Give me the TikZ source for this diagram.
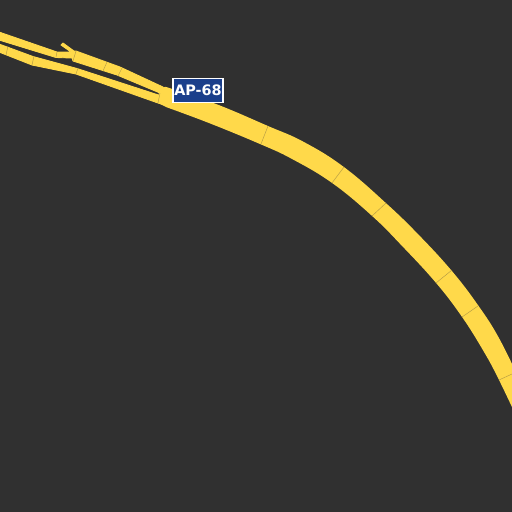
\documentclass[tikz,border=0pt]{standalone}
\usepackage{fontspec}
\setsansfont{DejaVu Sans}
\definecolor{groundgray}{HTML}{303030}
\definecolor{roadyellow}{HTML}{FFD94A}
\definecolor{jointgray}{HTML}{B39A45}
\definecolor{shieldblue}{HTML}{1B3F8B}
\begin{document}
\begin{tikzpicture}[x=0.02cm, y=-0.02cm]
    % Styles
    \tikzstyle{road} = [fill=roadyellow, draw=roadyellow, line width=0.5pt, line join=round]
    \tikzstyle{mainroad} = [road, line width=1.5pt]
    \tikzstyle{joint} = [draw=jointgray, line width=0.25pt]
    \tikzstyle{shield} = [rectangle, draw=white, line width=0.6pt, fill=shieldblue, text=white, font=\sffamily\bfseries\fontsize{8.2}{9}\selectfont, minimum width=1cm, minimum height=0.47cm, inner sep=0pt]

    % Ground
    \fill[groundgray] (0, 0) rectangle (512, 512);
    \useasboundingbox (0, 0) rectangle (512, 512);
    \clip (0, 0) rectangle (512, 512);

    % Upper carriageway
    \draw[road] (-1, 32) -- (57, 52) -- (71, 52) -- (61, 45) -- (63, 43) -- (74, 51) -- (76, 51) -- (120, 67) -- (163, 87) -- (172, 100) -- (160, 93) -- (117, 75) -- (73, 61) -- (72, 58) -- (56, 57.5) -- (-1, 40) -- cycle;

    % Lower carriageway
    \draw[road] (-1, 44) -- (33, 56.5) -- (77, 68.5) -- (160, 95.5) -- (172, 107) -- (158, 103) -- (76, 74) -- (32, 65) -- (-1, 52) -- cycle;

    % Main carriageway
    \draw[mainroad] plot[smooth, tension=0.7] coordinates {(165, 88) (215, 105) (267, 127) (303, 143) (343, 168) (385, 204) (418, 236) (451, 272) (477, 306) (498, 339) (520, 384)} -- plot[smooth, tension=0.7] coordinates {(520, 421) (500, 379) (485, 351) (463, 316) (437, 282) (403, 245) (373, 215) (333, 182) (293, 158) (261, 143) (210, 122) (167, 106)} -- (159, 102) -- (160, 94) -- cycle;

    % Joints
    \coordinate (J1a) at (8, 46);
    \coordinate (J1b) at (6, 55);
    \coordinate (J2a) at (34, 56);
    \coordinate (J2b) at (32, 65);
    \coordinate (J3a) at (78, 68);
    \coordinate (J3b) at (76, 74);
    \coordinate (J4a) at (57, 52);
    \coordinate (J4b) at (56, 57);
    \coordinate (J5a) at (76, 51);
    \coordinate (J5b) at (73, 61);
    \coordinate (J6a) at (107, 62);
    \coordinate (J6b) at (103, 71);
    \coordinate (J7a) at (122, 68);
    \coordinate (J7b) at (118, 76);
    \coordinate (J8a) at (160, 93);
    \coordinate (J8b) at (158, 103);
    \coordinate (J9a) at (268, 126);
    \coordinate (J9b) at (261, 144);
    \coordinate (J10a) at (344, 167);
    \coordinate (J10b) at (332, 183);
    \coordinate (J11a) at (386, 203);
    \coordinate (J11b) at (372, 216);
    \coordinate (J12a) at (452, 270);
    \coordinate (J12b) at (436, 283);
    \coordinate (J13a) at (478, 306);
    \coordinate (J13b) at (462, 317);
    \coordinate (J14a) at (512, 374);
    \coordinate (J14b) at (499, 380);
    \foreach \i in {1,...,14}
        \draw[joint] (J\i a) -- (J\i b);

    % Route label
    \node[shield] (AP68) at (198, 90.5) {AP-68};
\end{tikzpicture}
\end{document}
